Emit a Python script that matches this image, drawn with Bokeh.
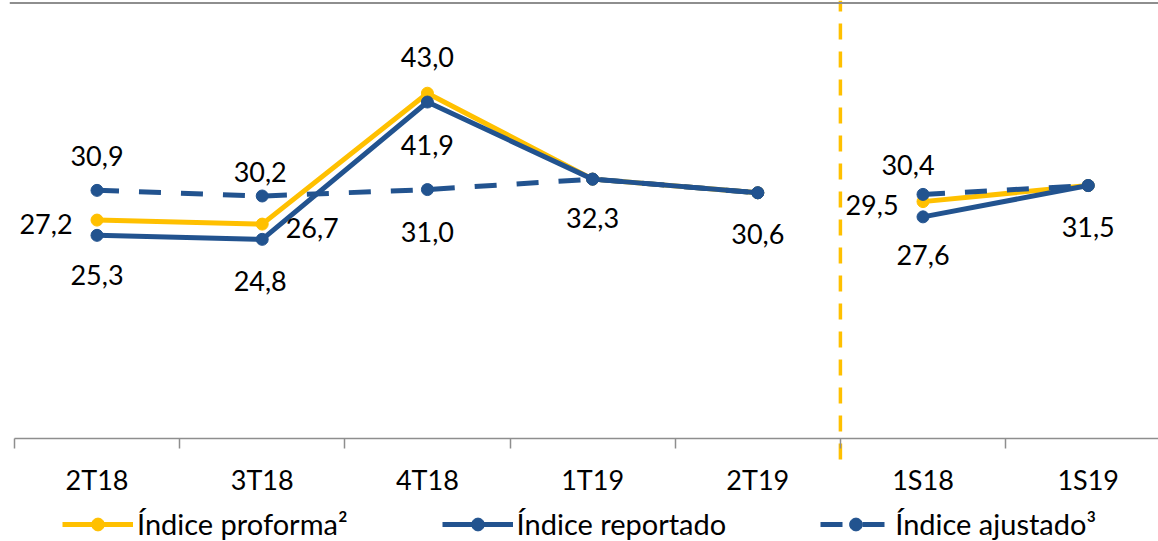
from bokeh.plotting import figure
from bokeh.models import Range1d, FixedTicker, Span, Legend, LegendItem, ColumnDataSource
from bokeh.embed import file_html
from bokeh.resources import INLINE
from bokeh.core.properties import value

# ---- data ----
categories = ["2T18", "3T18", "4T18", "1T19", "2T19", "1S18", "1S19"]
proforma = [27.2, 26.7, 43.0, 32.3, 30.6, 29.5, 31.5]
reportado = [25.3, 24.8, 41.9, 32.3, 30.6, 27.6, 31.5]
ajustado = [30.9, 30.2, 31.0, 32.3, 30.6, 30.4, 31.5]
series_names = ["Índice proforma²", "Índice reportado", "Índice ajustado³"]

# label placement (screen px offsets from the point; None = no label)
proforma_lbl = [(-51, 4), (50, 4), (0, -36), None, None, (-51, 3), None]
reportado_lbl = [(0, 40), (-2, 42), (0, 43), (0, 39), (0, 41), (0, 38), (0, 41)]
ajustado_lbl = [(0, -34), (-2, -24), (0, 42), None, None, (-15, -29), None]

GOLD = "#FFC000"
BLUE = "#22538F"
GRAY = "#8E8E8E"
FONT = "Lato"
FS = "27px"

n = len(categories)
xs = list(range(n))
# groups: quarterly (T) and half-year (S) periods, lines break between them
groups = []
for i, c in enumerate(categories):
    kind = c[1]
    if not groups or groups[-1][0] != kind:
        groups.append([kind, [i]])
    else:
        groups[-1][1].append(i)

PX = 8.03                      # px per y unit
Y_TOP = 438 / PX
Y_BOT = (438 - 541) / PX
p = figure(width=1158, height=541,
           x_range=Range1d(-0.5297, 6.4255), y_range=Range1d(Y_BOT, Y_TOP),
           output_backend="svg", toolbar_location=None, y_axis_location=None,
           min_border_left=9, min_border_right=0, min_border_top=0, min_border_bottom=0)
p.outline_line_color = None
p.grid.visible = False
p.background_fill_color = "white"
p.border_fill_color = "white"

# top border line
p.add_layout(Span(location=Y_TOP - 2.5 / PX, dimension="width",
                  line_color=GRAY, line_width=2))

# separator between quarterly and half-year
sep = groups[1][1][0] - 0.5
p.segment(x0=[sep], y0=[-21 / PX], x1=[sep], y1=[Y_TOP], line_color=GOLD,
          line_width=3.5, line_dash="16 12")

renderers = {}
styles = [
    (proforma, GOLD, "solid"),
    (reportado, BLUE, "solid"),
    (ajustado, BLUE, "22 20"),
]
for k, (vals, col, dash) in enumerate(styles):
    lines = []
    for kind, idx in groups:
        r = p.line([xs[i] for i in idx], [vals[i] for i in idx], line_color=col,
                   line_width=5, line_dash=dash, line_join="round")
        lines.append(r)
    s = p.scatter(xs, vals, size=12, fill_color=col, line_color=col, marker="circle")
    renderers[k] = (lines[0], s)

# data labels
lx, ly, lt, ox, oy = [], [], [], [], []
for vals, lbls in [(proforma, proforma_lbl), (reportado, reportado_lbl), (ajustado, ajustado_lbl)]:
    for i, (v, l) in enumerate(zip(vals, lbls)):
        if l is None:
            continue
        lx.append(xs[i]); ly.append(v)
        lt.append(f"{v:.1f}".replace(".", ","))
        ox.append(l[0]); oy.append(l[1])
src = ColumnDataSource(dict(x=lx, y=ly, text=lt, xo=ox, yo=oy))
p.text(x="x", y="y", text="text", x_offset="xo", y_offset="yo", source=src,
       text_font=value(FONT), text_font_size=FS, text_color="#000000",
       text_align="center", text_baseline="middle")

# x axis at y = 0 with ticks between categories
bounds = [i - 0.5 for i in range(n + 1)]
ax = p.xaxis[0]
ax.fixed_location = 0
ax.bounds = (bounds[0], bounds[-1])
ax.ticker = FixedTicker(ticks=xs, minor_ticks=bounds)
ax.major_label_overrides = {i: c for i, c in enumerate(categories)}
ax.axis_line_color = GRAY
ax.axis_line_width = 1.5
ax.major_tick_line_color = None
ax.major_tick_out = 0
ax.major_tick_in = 0
ax.minor_tick_line_color = GRAY
ax.minor_tick_line_width = 1.5
ax.minor_tick_out = 10
ax.minor_tick_in = 0
ax.major_label_standoff = 14
ax.major_label_text_font = FONT
ax.major_label_text_font_size = FS
ax.major_label_text_color = "#000000"

items = [LegendItem(label=series_names[k], renderers=list(renderers[k])) for k in range(3)]
legend = Legend(items=items, orientation="horizontal", location=(53, 0),
                glyph_width=71, glyph_height=32, label_standoff=4, spacing=94,
                padding=0, margin=0, border_line_color=None, background_fill_alpha=0,
                label_text_font=FONT, label_text_font_size="29px", label_text_color="#000000")
p.add_layout(legend)

open("out.html", "w").write(file_html(p, INLINE))
